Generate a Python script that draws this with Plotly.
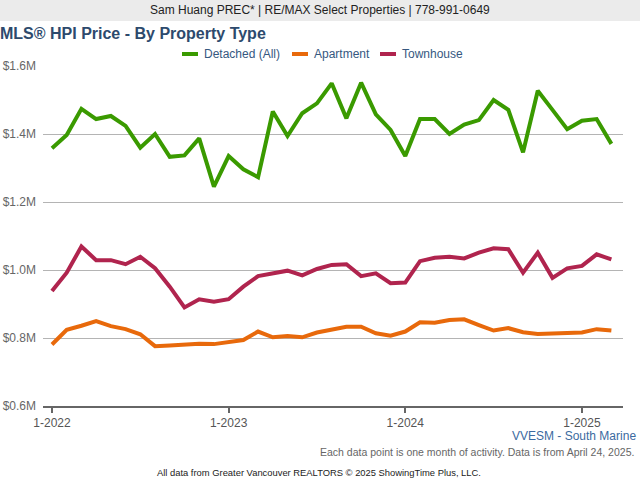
import plotly.graph_objects as go

months = [f"{m}-{y}" for y in (2022, 2023, 2024, 2025) for m in range(1, 13)][:39]

detached = [1.358, 1.397, 1.474, 1.444, 1.453, 1.424, 1.360, 1.400, 1.333, 1.337,
            1.387, 1.245, 1.335, 1.296, 1.273, 1.466, 1.394, 1.461, 1.490, 1.549,
            1.446, 1.551, 1.458, 1.412, 1.335, 1.444, 1.444, 1.400, 1.428, 1.441,
            1.500, 1.471, 1.346, 1.527, 1.471, 1.414, 1.439, 1.444, 1.371]
apartment = [0.781, 0.824, 0.836, 0.850, 0.835, 0.826, 0.811, 0.776, 0.778, 0.781,
             0.783, 0.782, 0.787, 0.794, 0.819, 0.802, 0.806, 0.802, 0.816, 0.824,
             0.833, 0.833, 0.814, 0.807, 0.819, 0.846, 0.845, 0.853, 0.855, 0.838,
             0.822, 0.829, 0.817, 0.812, 0.814, 0.816, 0.816, 0.826, 0.822]
townhouse = [0.938, 0.992, 1.069, 1.029, 1.029, 1.017, 1.039, 1.005, 0.951, 0.890,
             0.914, 0.907, 0.914, 0.951, 0.982, 0.990, 0.998, 0.984, 1.003, 1.015,
             1.017, 0.982, 0.990, 0.961, 0.963, 1.026, 1.036, 1.039, 1.034, 1.051,
             1.064, 1.061, 0.992, 1.051, 0.977, 1.005, 1.012, 1.046, 1.031]

series_names = ["Detached (All)", "Apartment", "Townhouse"]
series_colors = ["#3a9a00", "#e8690b", "#b0244e"]
series_values = [detached, apartment, townhouse]

y_ticks = [0.6, 0.8, 1.0, 1.2, 1.4, 1.6]
y_labels = ["$0.6M", "$0.8M", "$1.0M", "$1.2M", "$1.4M", "$1.6M"]
x_tick_labels = ["1-2022", "1-2023", "1-2024", "1-2025"]

FONT = "Arial, Liberation Sans, sans-serif"
x = list(range(len(months)))

fig = go.Figure()
for name, color, vals in zip(series_names, series_colors, series_values):
    fig.add_trace(go.Scatter(x=x, y=vals, mode="lines", name=name,
                             line=dict(color=color, width=4), showlegend=False,
                             text=months, hovertemplate="%{text}: $%{y:.3f}M"))

x_tickvals = [months.index(t) for t in x_tick_labels]

fig.update_layout(
    width=640, height=480,
    margin=dict(l=43, r=17, t=66, b=74, autoexpand=False),
    paper_bgcolor="white", plot_bgcolor="white",
    font=dict(family=FONT, size=12, color="#555"),
    xaxis=dict(range=[-0.61, 38.79], tickvals=x_tickvals, ticktext=x_tick_labels,
               showgrid=False, zeroline=False, showline=True, linecolor="#666",
               linewidth=2, ticks="outside", ticklen=5, tickwidth=2, tickcolor="#666",
               automargin=False, tickfont=dict(size=12, color="#555")),
    yaxis=dict(range=[0.6, 1.6], tickvals=y_ticks, ticktext=y_labels,
               showgrid=True, gridcolor="#b4b4b4", gridwidth=1, zeroline=False,
               showline=False, ticks="", ticklabelstandoff=6, automargin=False,
               tickfont=dict(size=12, color="#666")),
)


def px_x(px):
    return (px - 43) / 580


def px_y(py):
    return (406 - py) / 340


# header band
fig.add_shape(type="rect", xref="paper", yref="paper",
              x0=px_x(-5), x1=px_x(645), y0=px_y(21), y1=px_y(-5),
              fillcolor="#ebebeb", line=dict(width=0), layer="below")

fig.add_annotation(text="Sam Huang PREC* | RE/MAX Select Properties | 778-991-0649",
                   xref="paper", yref="paper", x=px_x(320), y=px_y(10),
                   showarrow=False, xanchor="center", yanchor="middle",
                   font=dict(family=FONT, size=12, color="#222"))
fig.add_annotation(text="<b>MLS® HPI Price - By Property Type</b>",
                   xref="paper", yref="paper", x=px_x(-2), y=px_y(34),
                   showarrow=False, xanchor="left", yanchor="middle",
                   font=dict(family=FONT, size=16, color="#2d4a6d"))

# legend
leg_bars = [(182, 198), (292, 308), (380, 396)]
leg_text_x = [202, 312, 400]
for (b0, b1), tx, name, color in zip(leg_bars, leg_text_x, series_names, series_colors):
    fig.add_shape(type="rect", xref="paper", yref="paper",
                  x0=px_x(b0), x1=px_x(b1), y0=px_y(56), y1=px_y(52),
                  fillcolor=color, line=dict(width=0))
    fig.add_annotation(text=name, xref="paper", yref="paper", x=px_x(tx), y=px_y(54),
                       showarrow=False, xanchor="left", yanchor="middle",
                       font=dict(family=FONT, size=12, color="#36587f"))

fig.add_annotation(text="VVESM - South Marine", xref="paper", yref="paper",
                   x=px_x(638), y=px_y(436), showarrow=False, xanchor="right",
                   yanchor="middle", font=dict(family=FONT, size=12, color="#3b6aa0"))
fig.add_annotation(text="Each data point is one month of activity. Data is from April 24, 2025.",
                   xref="paper", yref="paper", x=px_x(636), y=px_y(452), showarrow=False,
                   xanchor="right", yanchor="middle",
                   font=dict(family=FONT, size=10.5, color="#666"))
fig.add_annotation(text="All data from Greater Vancouver REALTORS © 2025 ShowingTime Plus, LLC.",
                   xref="paper", yref="paper", x=px_x(318.5), y=px_y(472), showarrow=False,
                   xanchor="center", yanchor="middle",
                   font=dict(family=FONT, size=9.4, color="#222"))

fig.write_html("out.html", config={"displayModeBar": False},
               post_script="document.body.style.margin='0';document.body.style.overflow='hidden';")
